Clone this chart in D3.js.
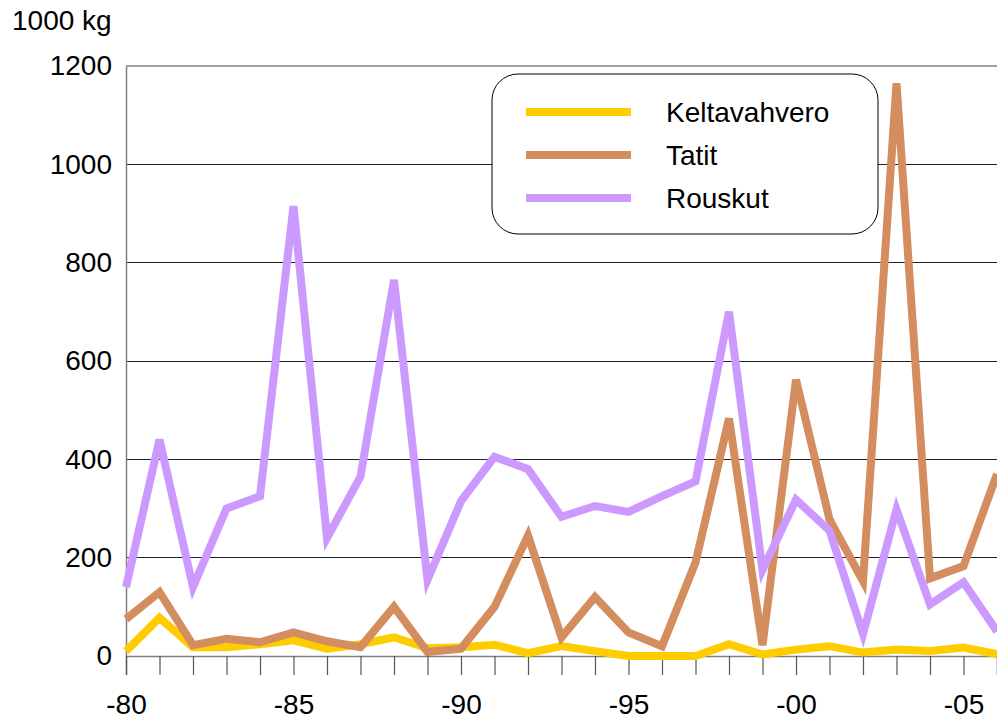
<!DOCTYPE html>
<html>
<head>
<meta charset="utf-8">
<script src="https://cdn.jsdelivr.net/npm/d3@7"></script>
<style>
  html, body { margin: 0; padding: 0; background: #fff; }
  svg { display: block; font-family: "Liberation Sans", Arial, sans-serif; }
</style>
</head>
<body>
<svg id="chart" width="997" height="721"></svg>
<script>
const years = d3.range(1980, 2007);
const yTicks = [0, 200, 400, 600, 800, 1000, 1200];
const xTickYears = [1980, 1985, 1990, 1995, 2000, 2005];
const xTickLabels = ["-80", "-85", "-90", "-95", "-00", "-05"];
const seriesNames = ["Keltavahvero", "Tatit", "Rouskut"];
const seriesColors = ["#FFCC00", "#D38D5F", "#CC99FF"];

const keltavahvero = [10, 78, 18, 18, 24, 32, 15, 24, 38, 16, 18, 23, 6, 20, 10, 0, 0, 0, 24, 3, 13, 20, 7, 13, 10, 17, 4];
const tatit = [75, 130, 22, 35, 28, 48, 30, 18, 100, 8, 15, 100, 245, 38, 120, 48, 20, 190, 483, 22, 562, 278, 152, 1165, 158, 183, 370];
const rouskut = [140, 440, 140, 300, 325, 915, 240, 365, 765, 155, 315, 405, 380, 283, 305, 293, 325, 355, 700, 175, 318, 255, 45, 298, 105, 150, 50];

const seriesValues = [keltavahvero, tatit, rouskut];

const svg = d3.select("#chart");
const pLeft = 126, pRight = 997, pTop = 66, pBottom = 656;

const x = d3.scaleLinear().domain([1980, 2006]).range([pLeft, pRight]);
const y = d3.scaleLinear().domain([0, 1200]).range([pBottom, pTop]);

// gridlines
svg.append("g").selectAll("line")
  .data(yTicks.filter(d => d > 0 && d < 1200))
  .join("line")
  .attr("x1", pLeft).attr("x2", pRight)
  .attr("y1", d => y(d)).attr("y2", d => y(d))
  .attr("stroke", "#222").attr("stroke-width", 1)
  .attr("shape-rendering", "crispEdges");

svg.append("line")
  .attr("x1", pLeft).attr("x2", pRight)
  .attr("y1", y(1200)).attr("y2", y(1200))
  .attr("stroke", "#808080").attr("stroke-width", 1.5);

// y axis
const yAxis = svg.append("g")
  .attr("transform", `translate(${pLeft},0)`)
  .call(d3.axisLeft(y).tickValues(yTicks).tickSize(0).tickPadding(14).tickFormat(d3.format("d")));
yAxis.select(".domain").attr("stroke", "#808080").attr("stroke-width", 1.5);
yAxis.selectAll("text").attr("font-size", 28).attr("fill", "#000")
  .attr("font-family", "'Liberation Sans', Arial, sans-serif");

// x axis
const xAxis = svg.append("g")
  .attr("transform", `translate(0,${pBottom})`)
  .call(d3.axisBottom(x).tickValues(years).tickSize(19).tickPadding(1)
    .tickFormat(d => { const i = xTickYears.indexOf(d); return i >= 0 ? xTickLabels[i] : ""; }));
xAxis.select(".domain").attr("stroke", "#808080").attr("stroke-width", 1.5);
xAxis.selectAll(".tick line").attr("stroke", "#555").attr("stroke-width", 1.2);
xAxis.selectAll("text").attr("font-size", 28).attr("fill", "#000")
  .attr("font-family", "'Liberation Sans', Arial, sans-serif")
  .attr("dy", "1.35em");

// unit label
svg.append("text").attr("x", 12).attr("y", 30)
  .attr("font-size", 28).attr("fill", "#000").text("1000 kg");

// lines
const line = d3.line().x((d, i) => x(years[i])).y(d => y(d));
svg.append("g").selectAll("path")
  .data(seriesValues)
  .join("path")
  .attr("d", d => line(d))
  .attr("fill", "none")
  .attr("stroke", (d, i) => seriesColors[i])
  .attr("stroke-width", 8)
  .attr("stroke-linejoin", "miter")
  .attr("stroke-miterlimit", 4);

// legend
const lg = svg.append("g");
lg.append("rect").attr("x", 492).attr("y", 74).attr("width", 386).attr("height", 160)
  .attr("rx", 26).attr("ry", 26)
  .attr("fill", "#fff").attr("stroke", "#000").attr("stroke-width", 1);
const items = lg.selectAll("g.item").data(seriesNames).join("g")
  .attr("transform", (d, i) => `translate(0,${112 + i * 43})`);
items.append("line").attr("x1", 526).attr("x2", 631).attr("y1", 0).attr("y2", 0)
  .attr("stroke", (d, i) => seriesColors[i]).attr("stroke-width", 8);
items.append("text").attr("x", 666).attr("y", 10)
  .attr("font-size", 28).attr("fill", "#000").text(d => d);
</script>
</body>
</html>
